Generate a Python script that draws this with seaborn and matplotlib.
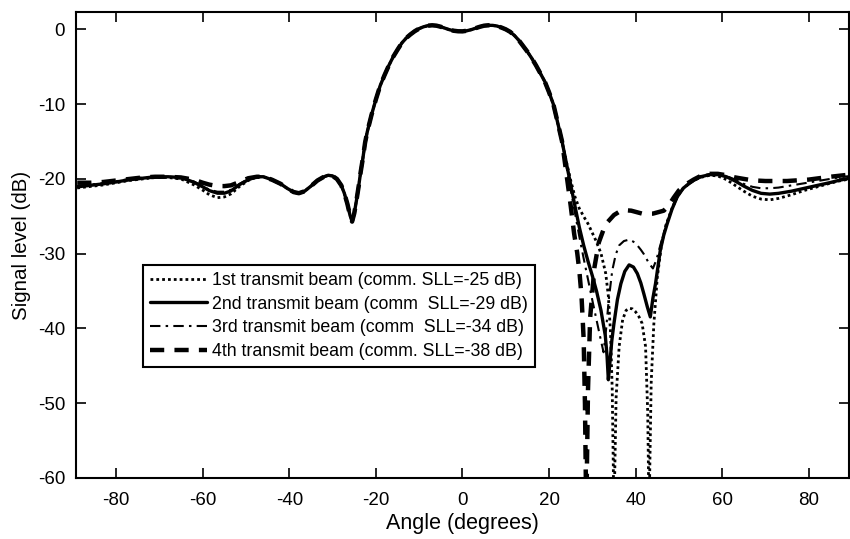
import numpy as np
import pandas as pd
import matplotlib
matplotlib.use("Agg")
import matplotlib.pyplot as plt
import seaborn as sns

# far-left sidelobes (angle in degrees), one list of levels per beam
left_angle = [-89, -86, -83, -80, -77, -74, -71, -68, -65, -62, -60, -58.5, -56.6, -55, -53.5, -51.5, -49.5, -47.5]
left_db_1st = [-21.2, -21.0, -20.8, -20.5, -20.2, -20.0, -19.8, -19.8, -20.0, -20.8, -21.5, -22.1, -22.5, -22.4, -22.0, -21.0, -20.2, -19.7]
left_db_2nd = [-21.05, -20.85, -20.65, -20.4, -20.1, -19.9, -19.7, -19.7, -19.8, -20.45, -21.05, -21.55, -21.9, -21.9, -21.6, -20.75, -20.1, -19.7]
left_db_3rd = [-20.95, -20.75, -20.55, -20.3, -20.0, -19.8, -19.7, -19.7, -19.8, -20.35, -20.95, -21.45, -21.7, -21.7, -21.45, -20.65, -20.0, -19.7]
left_db_4th = [-20.5, -20.5, -20.4, -20.2, -20.0, -19.8, -19.7, -19.7, -19.8, -20.1, -20.5, -20.75, -20.95, -20.95, -20.85, -20.4, -19.9, -19.7]

# shared part: near sidelobes + main beam (identical for all beams)
mid_angle = [-46, -44, -42, -40.5, -39, -37.8, -36.5, -35, -33.5, -32, -31, -30, -29, -28, -27.3, -26.6, -26, -25.5,
             -25, -24.5, -24, -23.5, -23, -22.5, -22, -21, -20, -19, -18, -17, -16, -15, -14, -13, -12, -11, -10,
             -9, -8, -7, -6, -5, -4, -3, -2, -1, 0, 1, 2, 3, 4, 5, 6, 7, 8, 9, 10, 11, 12, 13, 14, 15, 16, 17, 18,
             19, 20, 21, 22, 23]
mid_db = [-19.7, -20.1, -20.65, -21.25, -21.75, -21.9, -21.65, -20.95, -20.2, -19.7, -19.5, -19.6, -20.0, -20.85,
          -21.9, -23.3, -24.8, -25.7, -24.6, -22.9, -21.05, -19.0, -17.2, -15.15, -13.7, -11.4, -9.35, -7.5, -6.1,
          -4.8, -3.65, -2.7, -1.8, -1.15, -0.65, -0.22, 0.12, 0.36, 0.51, 0.56, 0.51, 0.36, 0.17, -0.03, -0.17,
          -0.24, -0.25, -0.17, -0.03, 0.17, 0.36, 0.51, 0.56, 0.55, 0.46, 0.26, 0.02, -0.31, -0.8, -1.43, -2.2,
          -2.97, -3.84, -4.81, -5.87, -6.94, -8.39, -10.0, -12.45, -14.96]

# right side, where the beams differ
right_angle_1st = [24, 25, 26, 27, 28.1, 29, 29.7, 30.8, 32, 33.1, 33.7, 34.2, 34.6, 35.0, 35.5, 36.2, 37.0, 37.8,
                   38.5, 39.3, 40.0, 40.8, 41.5, 42.3, 42.8, 43.1, 43.6, 44.2, 45, 46, 47, 48.4, 49.6, 51, 53.4, 55,
                   57.2, 59, 61, 63, 65, 67, 69, 71, 73, 76, 79, 82, 85, 87, 89.5]
right_db_1st = [-17.67, -20.18, -22.4, -23.95, -25.11, -25.98, -26.85, -28.2, -29.94, -32.65, -35.64, -40.48, -48.21,
                -65.0, -49.18, -42.41, -38.83, -37.58, -37.29, -37.38, -37.77, -38.45, -39.32, -42.41, -51.3, -65.0,
                -47.24, -39.51, -33.23, -28.68, -26.17, -23.95, -22.4, -21.24, -20.18, -19.79, -19.5, -19.6, -20.08,
                -20.86, -21.63, -22.31, -22.69, -22.79, -22.6, -22.11, -21.53, -21.05, -20.56, -20.27, -19.99]

right_angle_2nd = [24, 25, 26, 27, 28, 29, 30, 31, 32, 33, 33.4, 33.7, 34.1, 34.5, 35, 35.8, 36.6, 37.5, 38.5, 39.5,
                   40.4, 41.2, 41.9, 42.7, 43.4, 44, 44.6, 45.7, 46.5, 47.3, 48.4, 49.6, 51, 52, 53.4, 55, 57.2, 59,
                   61, 63, 65, 67, 69, 71, 73, 76, 79, 82, 85, 87, 89.5]
right_db_2nd = [-17.86, -20.76, -23.66, -26.46, -28.88, -31.0, -32.94, -35.06, -37.58, -40.96, -43.67, -46.86, -44.34,
                -41.64, -39.32, -36.13, -34.0, -32.36, -31.49, -31.78, -32.65, -33.9, -35.35, -37.09, -38.45, -35.93,
                -34.0, -29.55, -27.52, -25.98, -24.05, -22.4, -21.24, -20.76, -20.18, -19.7, -19.41, -19.41, -19.7,
                -20.27, -20.95, -21.53, -21.92, -22.02, -21.92, -21.63, -21.24, -20.86, -20.47, -20.18, -19.89]

right_angle_3rd = [24, 25, 26, 27, 28, 29, 30, 31, 32, 32.6, 33.2, 33.8, 34.6, 35.4, 36.2, 37.3, 38.5, 39.5, 40.4,
                   41.2, 41.9, 43.1, 44.0, 44.8, 45.7, 47, 48.4, 49.6, 51, 53.4, 55, 57.2, 59, 61, 63, 65, 67, 69,
                   71, 73, 76, 79, 82, 85, 87, 89.5]
right_db_3rd = [-18.25, -21.43, -24.63, -27.72, -30.62, -33.42, -36.22, -38.93, -41.64, -43.18, -39.99, -36.13, -32.26,
                -30.13, -28.88, -28.3, -28.11, -28.39, -28.88, -29.46, -30.04, -31.29, -31.97, -30.81, -28.88, -26.27,
                -24.05, -22.5, -21.24, -20.18, -19.6, -19.31, -19.31, -19.6, -20.08, -20.66, -21.05, -21.24, -21.24,
                -21.15, -20.86, -20.56, -20.27, -19.99, -19.79, -19.6]

right_angle_4th = [24, 25, 25.8, 26.5, 27.0, 27.5, 28.0, 28.3, 28.6, 29.0, 29.5, 30.5, 31.5, 32.6, 33.5, 35, 36.9,
                   39, 41.5, 44, 46.5, 47.5, 48.8, 50, 51.5, 53.4, 55, 57.2, 59, 61, 63, 65, 67, 70, 75, 80, 85, 89.5]
right_db_4th = [-19.21, -23.56, -27.33, -29.84, -32.26, -35.64, -41.44, -50.14, -65.0, -48.21, -38.54, -31.78, -28.49,
                -26.75, -25.78, -24.82, -24.14, -24.24, -24.63, -24.63, -24.24, -23.66, -22.5, -21.53, -20.76, -20.08,
                -19.6, -19.31, -19.31, -19.5, -19.79, -19.99, -20.18, -20.27, -20.27, -20.08, -19.7, -19.41]

labels = ["1st transmit beam (comm. SLL=-25 dB)",
          "2nd transmit beam (comm  SLL=-29 dB)",
          "3rd transmit beam (comm  SLL=-34 dB)",
          "4th transmit beam (comm. SLL=-38 dB)"]

sns.set_style("ticks")
plt.rcParams["font.family"] = ["Liberation Sans", "DejaVu Sans"]
plt.rcParams["axes.unicode_minus"] = False
for key in ["text.color", "axes.labelcolor", "xtick.color", "ytick.color", "axes.edgecolor"]:
    plt.rcParams[key] = "black"

series = [
    (left_db_1st, right_angle_1st, right_db_1st, dict(linestyle=(0, (1, 1.1)), linewidth=2.0)),
    (left_db_2nd, right_angle_2nd, right_db_2nd, dict(linestyle="-", linewidth=2.4)),
    (left_db_3rd, right_angle_3rd, right_db_3rd, dict(linestyle=(0, (5, 2.5, 1.2, 2.5)), linewidth=1.5)),
    (left_db_4th, right_angle_4th, right_db_4th, dict(linestyle=(0, (3.2, 2.3)), linewidth=3.2)),
]

fig = plt.figure(figsize=(8.5, 5.39), dpi=100)
ax = fig.add_axes([75.5 / 850, 1 - 478 / 539, 773.5 / 850, 466 / 539])

for (ldb, rang, rdb, style), lab in zip(series, labels):
    df = pd.DataFrame({"angle": left_angle + mid_angle + rang,
                       "level": ldb + mid_db + rdb})
    sns.lineplot(data=df, x="angle", y="level", ax=ax, color="black", label=lab,
                 estimator=None, sort=False, **style)

ax.set_xlim(-89.4, 89.3)
ax.set_ylim(-60, 2.34)
ax.set_xticks(np.arange(-80, 81, 20))
ax.set_yticks(np.arange(-60, 1, 10))
ax.tick_params(direction="in", top=True, right=True, length=7, width=1.2, labelsize=13.5)
ax.tick_params(axis="x", pad=10)
ax.tick_params(axis="y", pad=7.5)
for sp in ax.spines.values():
    sp.set_visible(True)
    sp.set_linewidth(1.5)
ax.set_xlabel("Angle (degrees)", fontsize=15.5, labelpad=3)
ax.set_ylabel("Signal level (dB)", fontsize=14.8, labelpad=5)

leg = ax.legend(loc="upper left", bbox_to_anchor=(0.087, 0.457), borderaxespad=0, fontsize=12.75,
                handlelength=3.25, handletextpad=0.25, labelspacing=0.37, borderpad=0.4,
                fancybox=False, framealpha=1, edgecolor="black")
leg.get_frame().set_linewidth(1.5)

fig.savefig("out.png", dpi=100)
